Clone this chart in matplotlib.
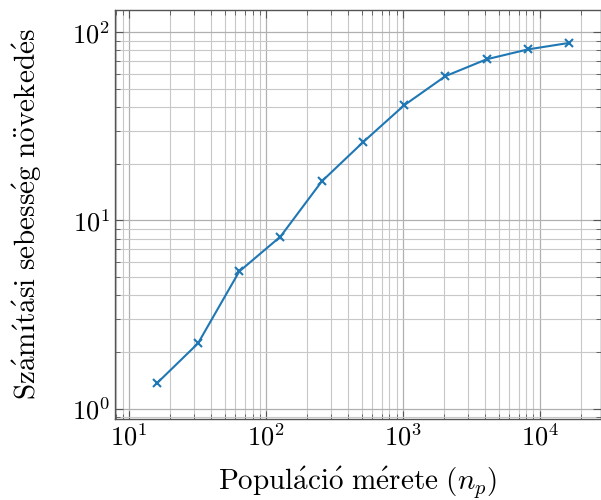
import numpy as np
import matplotlib
matplotlib.use('Agg')
from matplotlib import pyplot as plt
from matplotlib.ticker import LogLocator, NullFormatter

plt.rcParams['font.family'] = ['cmr10', 'DejaVu Serif']
plt.rcParams['mathtext.fontset'] = 'cm'
plt.rcParams['axes.formatter.use_mathtext'] = True

# Populacio merete es gyorsulas
pop_size = [16, 32, 64, 128, 256, 512, 1024, 2048, 4096, 8192, 16384]
speedup = [1.36, 2.22, 5.35, 8.2, 16.1, 26.0, 40.9, 58.4, 71.8, 81.0, 87.7]

xlabel = r'$\mathrm{Popul\acute{a}ci\acute{o}\ m\acute{e}rete}\ (n_p)$'
ylabel = r'$\mathrm{Sz\acute{a}m\acute{ı}t\acute{a}si\ sebess\acute{e}g\ n\ddot{o}veked\acute{e}s}$'

fig = plt.figure(figsize=(6.01, 5.0), dpi=100)
ax = fig.add_axes([0.191, 0.163, 0.809, 0.818])

ax.plot(pop_size, speedup, color='#1f77b4', marker='x', markersize=6,
        markeredgewidth=1.5, linewidth=1.5)

ax.set_xscale('log')
ax.set_yscale('log')
ax.set_xlim(7.9, 28000)
ax.set_ylim(0.885, 132)

ax.xaxis.set_minor_locator(LogLocator(base=10, subs=np.arange(2, 10), numticks=20))
ax.yaxis.set_minor_locator(LogLocator(base=10, subs=np.arange(2, 10), numticks=20))
ax.xaxis.set_minor_formatter(NullFormatter())
ax.yaxis.set_minor_formatter(NullFormatter())

ax.grid(True, which='major', color='#b0b0b0', linewidth=0.9)
ax.grid(True, which='minor', color='#c8c8c8', linewidth=0.8)
ax.tick_params(which='both', direction='in', top=True, right=True,
               color='#555555', labelsize=19)
ax.tick_params(which='major', length=6)
ax.tick_params(which='minor', length=3.5)
for s in ax.spines.values():
    s.set_color('#555555')
    s.set_linewidth(1.0)

ax.set_xlabel(xlabel, fontsize=21, labelpad=10)
ax.set_ylabel(ylabel, fontsize=21, labelpad=20)

plt.savefig('out.png', dpi=100)
